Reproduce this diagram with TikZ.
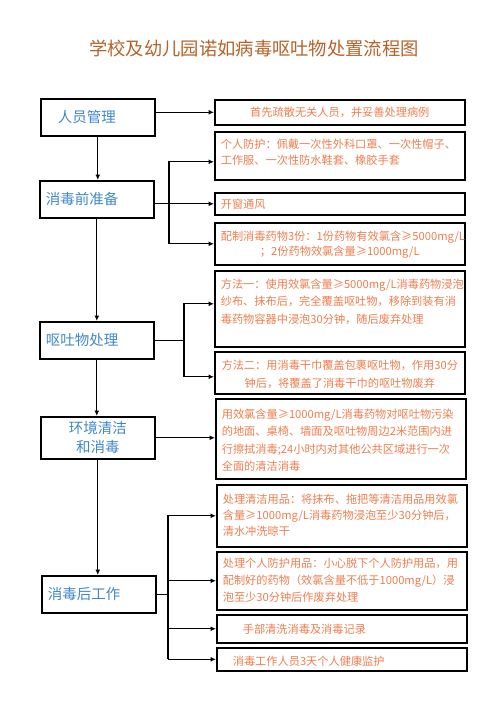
\documentclass[tikz,border=0pt]{standalone}
\usepackage{fontspec}
\setmainfont{Noto Sans CJK SC}
\usepackage{tikz}
\usetikzlibrary{arrows.meta}
\definecolor{titlebrown}{HTML}{B5632A}
\definecolor{stepblue}{HTML}{3F88C8}
\definecolor{noteorange}{HTML}{EE7D4E}

\begin{document}
\begin{tikzpicture}[x=1pt,y=-1pt,
  stage/.style={draw,line width=1.6pt,anchor=north west,minimum width=114pt,minimum height=37pt,
    inner xsep=6pt,text width=102pt,align=left,text=stepblue,font=\fontsize{14.5}{19}\selectfont},
  note/.style={draw,line width=1.6pt,anchor=north west,inner xsep=6pt,inner ysep=0pt,
    text width=238pt,align=left,text=noteorange,font=\fontsize{11.2}{#1}\selectfont},
  note/.default=17,
  link/.style={line width=1.2pt},
  arr/.style={link,-{Latex[length=5.5pt,width=5pt]}}]
\useasboundingbox (0,0) rectangle (503,725);
\node[font=\fontsize{18.3}{20}\selectfont,text=titlebrown] (title) at (254,48) {学校及幼儿园诺如病毒呕吐物处置流程图};

\node[stage] (staff) at (40,98) {\hspace*{11pt}人员管理};
\node[stage] (prep) at (39,180) {消毒前准备};
\node[stage] (vomit) at (39,321) {呕吐物处理};
\node[stage,minimum height=42pt,align=center] (clean) at (40,416) {环境清洁\\和消毒};
\node[stage] (after) at (41,575) {消毒后工作};

\node[note,align=center,text height=17pt,text depth=8pt] (evac) at (214,99) {首先疏散无关人员，并妥善处理病例};
\node[note=16,text height=16.5pt,text depth=31.5pt] (ppe) at (214,131) {个人防护：佩戴一次性外科口罩、一次性帽子、\\工作服、一次性防水鞋套、橡胶手套};
\node[note,text height=15.5pt,text depth=6.5pt] (air) at (214,192) {开窗通风};
\node[note=15,align=center,text height=17.5pt,text depth=24.5pt] (mix) at (214,222) {配制消毒药物3份：1份药物有效氯含≥5000mg/L\\；2份药物效氯含量≥1000mg/L};
\node[note=17.5,text height=17.5pt,text depth=58.5pt] (way1) at (214,270) {方法一：使用效氯含量≥5000mg/L消毒药物浸泡\\纱布、抹布后，完全覆盖呕吐物，移除到装有消\\毒药物容器中浸泡30分钟，随后废弃处理};
\node[note=18,align=center,text height=17.5pt,text depth=24.5pt] (way2) at (214,351) {方法二：用消毒干巾覆盖包裹呕吐物，作用30分\\钟后，将覆盖了消毒干巾的呕吐物废弃};
\node[note=17.5,text height=19.5pt,text depth=60.5pt] (area) at (215,398) {用效氯含量≥1000mg/L消毒药物对呕吐物污染\\的地面、桌椅、墙面及呕吐物周边2米范围内进\\行擦拭消毒;24小时内对其他公共区域进行一次\\全面的清洁消毒};
\node[note=16,text height=18.5pt,text depth=43.5pt] (tools) at (216,484) {处理清洁用品：将抹布、拖把等清洁用品用效氯\\含量≥1000mg/L消毒药物浸泡至少30分钟后，\\清水冲洗晾干};
\node[note=17,text height=15.5pt,text depth=42.5pt] (gear) at (216,551) {处理个人防护用品：小心脱下个人防护用品，用\\配制好的药物（效氯含量不低于1000mg/L）浸\\泡至少30分钟后作废弃处理};
\node[note,text height=18.5pt,text depth=9.5pt] (hands) at (216,614) {\hspace*{20pt}手部清洗消毒及消毒记录};
\node[note,text height=17.5pt,text depth=5.5pt] (watch) at (216,647) {\hspace*{10pt}消毒工作人员3天个人健康监护};

\draw[arr] (staff.south) -- (staff.south |- prep.north);
\draw[arr] (prep.south) -- (prep.south |- vomit.north);
\draw[arr] (vomit.south) -- (vomit.south |- clean.north);
\draw[arr] (clean.south) -- (clean.south |- after.north);
\draw[arr] (staff.east |- evac.west) -- (evac.west);

\coordinate (fork1) at (169,0);
\draw[arr] (prep.east |- air.west) -- (air.west);
\draw[arr] (fork1 |- mix.west) |- ([yshift=-6pt]ppe.west);
\draw[arr] (fork1 |- air.west) |- (mix.west);

\coordinate (fork2) at (184,0);
\draw[link] (vomit.east) -- (vomit.east -| fork2);
\draw[arr] (vomit.east -| fork2) |- ([yshift=5pt]way1.west);
\draw[arr] (vomit.east -| fork2) |- ([yshift=-4pt]way2.west);

\draw[arr] (clean.east) -- (clean.east -| area.west);

\coordinate (fork3) at (168,0);
\draw[link] (after.east) -- (after.east -| fork3);
\draw[arr] (fork3 |- watch.west) |- (tools.west);
\draw[arr] (fork3 |- gear.west) -- (gear.west);
\draw[arr] (fork3 |- hands.west) -- (hands.west);
\draw[arr] (fork3 |- watch.west) -- (watch.west);
\end{tikzpicture}
\end{document}
